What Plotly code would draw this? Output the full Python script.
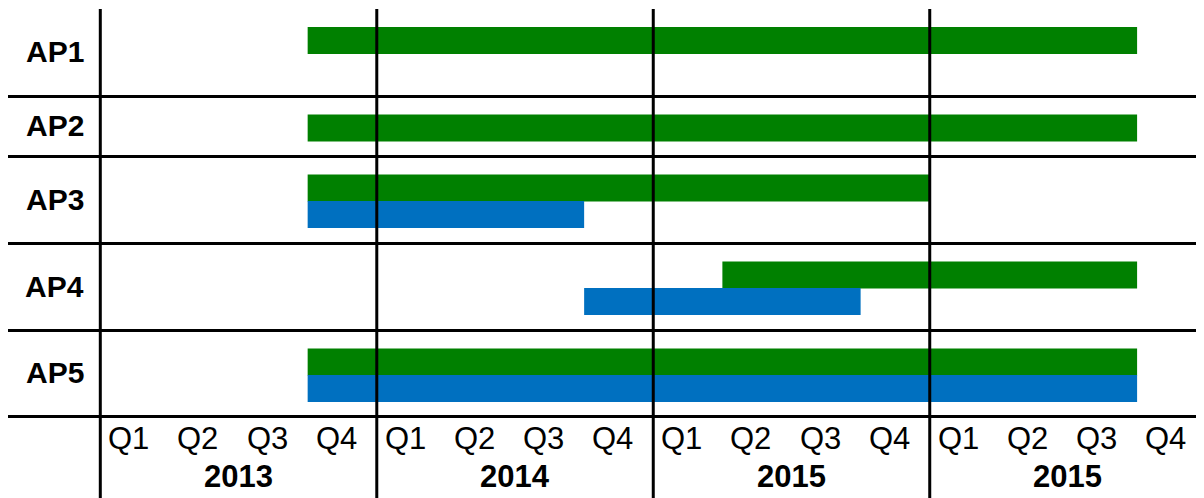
import plotly.graph_objects as go

# ---- data ----
projects = ["AP1", "AP2", "AP3", "AP4", "AP5"]
# bar spans in quarter indices (0 = Q1 of first year)
green_start = [3, 3, 3, 9, 3]
green_end = [15, 15, 12, 15, 15]
blue_start = [None, None, 3, 7, 3]
blue_end = [None, None, 7, 11, 15]
quarters = ["Q1", "Q2", "Q3", "Q4"]
years = ["2013", "2014", "2015", "2015"]

GREEN = "#008000"
BLUE = "#0070C0"

# ---- layout constants (screen pixels) ----
PAGE_OFF = 8        # default body margin of the html page
W, H = 1204 - PAGE_OFF, 498 - PAGE_OFF
QPX = 69.12         # pixels per quarter
X0 = 100.3 - PAGE_OFF  # figure-pixel x of quarter 0
TOP = 9
row_bounds = [9, 96.5, 156.5, 243.5, 330.5, 416.5]
GREEN_OFF = 31.5
BLUE_OFF = 58.0
BAR_H = 27
FONT = "Arial, Liberation Sans, sans-serif"


def px2q(px):
    """screen px -> quarter units"""
    return (px - PAGE_OFF - X0) / QPX


def py(y):
    """screen px -> figure y units"""
    return y - PAGE_OFF


green_y = [py(row_bounds[i] + GREEN_OFF) for i in range(len(projects))]
blue_y = [py(row_bounds[i] + BLUE_OFF) for i in range(len(projects))]

fig = go.Figure()

fig.add_trace(go.Bar(
    orientation="h",
    y=green_y,
    base=green_start,
    x=[e - s for s, e in zip(green_start, green_end)],
    width=BAR_H,
    marker=dict(color=GREEN, line=dict(width=0)),
    showlegend=False,
    hoverinfo="skip",
))

by, bb, bx = [], [], []
for i, (s, e) in enumerate(zip(blue_start, blue_end)):
    if s is not None:
        by.append(blue_y[i])
        bb.append(s)
        bx.append(e - s)
fig.add_trace(go.Bar(
    orientation="h",
    y=by, base=bb, x=bx,
    width=BAR_H,
    marker=dict(color=BLUE, line=dict(width=0)),
    showlegend=False,
    hoverinfo="skip",
))

shapes = []
line = dict(color="black", width=3)
# horizontal row separators
for yb in row_bounds[1:]:
    shapes.append(dict(type="line", xref="x", yref="y", x0=px2q(7), x1=px2q(1204 + 10),
                       y0=py(yb), y1=py(yb), line=line, layer="above"))
# vertical year separators (including left axis)
for k in range(len(years)):
    shapes.append(dict(type="line", xref="x", yref="y", x0=4 * k, x1=4 * k,
                       y0=py(TOP), y1=py(498 + 10), line=line, layer="above"))

annotations = []
for i, p in enumerate(projects):
    yc = (row_bounds[i] + row_bounds[i + 1]) / 2
    annotations.append(dict(x=px2q(86), y=py(yc - 1), xref="x", yref="y", text="<b>%s</b>" % p,
                            showarrow=False, xanchor="right", yanchor="middle",
                            font=dict(family=FONT, size=30, color="black")))
Q_PAD = 6 / QPX
for k, yr in enumerate(years):
    for j, q in enumerate(quarters):
        annotations.append(dict(x=4 * k + j + Q_PAD, y=py(438), xref="x", yref="y", text=q,
                                showarrow=False, xanchor="left", yanchor="middle",
                                font=dict(family=FONT, size=31, color="black")))
    annotations.append(dict(x=4 * k + 2, y=py(476), xref="x", yref="y", text="<b>%s</b>" % yr,
                            showarrow=False, xanchor="center", yanchor="middle",
                            font=dict(family=FONT, size=31, color="black")))

fig.update_layout(
    width=W, height=H,
    margin=dict(l=0, r=0, t=0, b=0),
    paper_bgcolor="white", plot_bgcolor="white",
    barmode="overlay",
    xaxis=dict(range=[px2q(PAGE_OFF), px2q(PAGE_OFF + W)], showgrid=False, zeroline=False,
               showticklabels=False, showline=False, fixedrange=True),
    yaxis=dict(range=[H, 0], showgrid=False, zeroline=False,
               showticklabels=False, showline=False, fixedrange=True),
    shapes=shapes,
    annotations=annotations,
)

fig.write_html("out.html")
